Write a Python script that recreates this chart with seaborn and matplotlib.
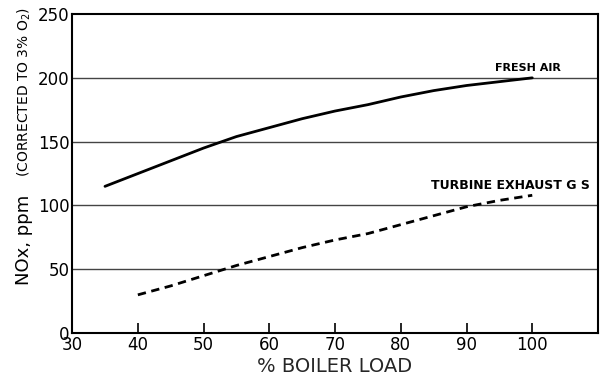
import matplotlib
matplotlib.use("Agg")
import matplotlib.pyplot as plt
import pandas as pd
import seaborn as sns

sns.set_theme(style="white")
plt.rcParams["font.family"] = ["DejaVu Sans"]
plt.rcParams["text.color"] = "black"
plt.rcParams["xtick.color"] = "black"
plt.rcParams["ytick.color"] = "black"

# Dados
carga_ar = [35, 40, 45, 50, 55, 60, 65, 70, 75, 80, 85, 90, 95, 100]
nox_ar = [115, 125, 135, 145, 154, 161, 168, 174, 179, 185, 190, 194, 197, 200]

carga_turb = [40, 45, 50, 55, 60, 65, 70, 75, 80, 85, 90, 95, 100]
nox_turb = [30, 37, 45, 53, 60, 67, 73, 78, 85, 92, 99, 104, 108]

x_ticks = [30, 40, 50, 60, 70, 80, 90, 100]
y_ticks = [0, 50, 100, 150, 200, 250]

df_ar = pd.DataFrame({"carga": carga_ar, "nox": nox_ar})
df_turb = pd.DataFrame({"carga": carga_turb, "nox": nox_turb})

fig = plt.figure(figsize=(6.01, 3.79), dpi=100)
ax = fig.add_axes([0.12, 0.121, 0.875, 0.842])

for y in [50, 100, 150, 200]:
    ax.axhline(y, color="#444444", lw=1.0, zorder=1)

sns.lineplot(data=df_ar, x="carga", y="nox", ax=ax, color="black", lw=2.0)
sns.lineplot(data=df_turb, x="carga", y="nox", ax=ax, color="black", lw=2.0,
             linestyle=(0, (3, 2)))

ax.set_xlim(30, 110)
ax.set_ylim(0, 250)
ax.set_xticks(x_ticks)
ax.set_yticks(y_ticks)
ax.tick_params(axis="x", direction="in", length=7, width=1.2,
               labelsize=12, pad=2, bottom=True)
ax.tick_params(axis="y", length=0, labelsize=12, pad=2)
for s in ax.spines.values():
    s.set_color("black")
    s.set_linewidth(1.5)

ax.text(104.4, 208, "FRESH AIR", fontsize=8, fontweight="bold", ha="right", va="center")
ax.text(108.8, 116, "TURBINE EXHAUST G S", fontsize=9, fontweight="bold",
        ha="right", va="center")

ax.set_xlabel("% BOILER LOAD", fontsize=14, labelpad=2)
ax.set_ylabel("")
fig.text(0.04, 0.367, "NOx, ppm", rotation=90, fontsize=13, ha="center", va="center")
fig.text(0.04, 0.757, "(CORRECTED TO 3% O$_2$)", rotation=90, fontsize=10,
         ha="center", va="center")

plt.savefig("out.png", dpi=100)
plt.close()
